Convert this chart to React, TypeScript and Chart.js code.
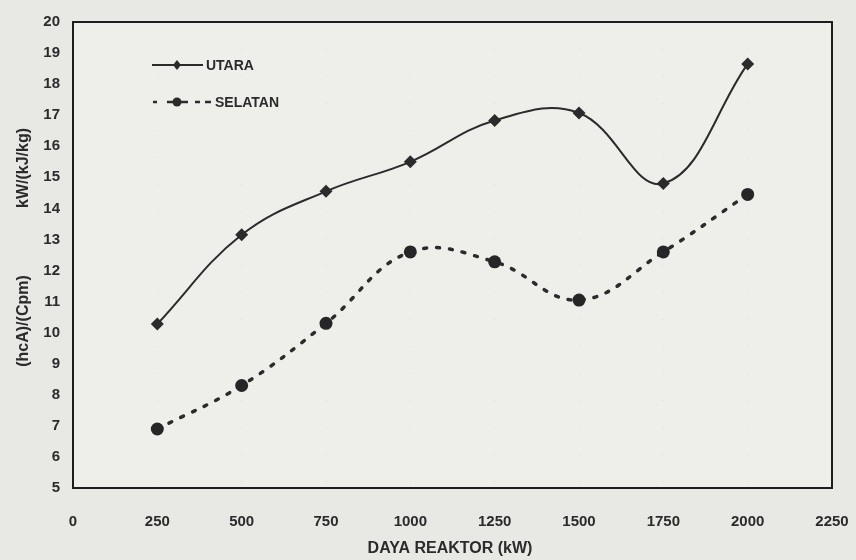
import React, { useEffect, useRef } from "react";
import { Chart, registerables } from "chart.js";

Chart.register(...registerables);

const power = [250, 500, 750, 1000, 1250, 1500, 1750, 2000];
const utara = [10.28, 13.15, 14.55, 15.5, 16.83, 17.07, 14.8, 18.65];
const selatan = [6.9, 8.3, 10.3, 12.6, 12.28, 11.05, 12.6, 14.45];
const xTicks = [0, 250, 500, 750, 1000, 1250, 1500, 1750, 2000, 2250];
const legendLabels = ["UTARA", "SELATAN"];
const yTitleParts = ["(hcA)/(Cpm)", "kW/(kJ/kg)"];
const xTitle = "DAYA REAKTOR (kW)";

const INK = "#2b2b2b";
const FONT = "'Liberation Sans', Arial, sans-serif";

const framePlugin = {
  id: "frame",
  beforeDraw(chart: any) {
    const { ctx, chartArea: a, width, height } = chart;
    ctx.save();
    ctx.fillStyle = "#e8e8e5";
    ctx.fillRect(0, 0, width, height);
    ctx.fillStyle = "#eeeeeb";
    ctx.fillRect(a.left, a.top, a.right - a.left, a.bottom - a.top);
    ctx.restore();
  },
  afterDraw(chart: any) {
    const { ctx, chartArea: a } = chart;
    ctx.save();
    ctx.strokeStyle = "#1e1e1e";
    ctx.lineWidth = 2;
    ctx.strokeRect(a.left, a.top, a.right - a.left, a.bottom - a.top);

    // legend inside plot
    const x0 = 152;
    const y1 = 65;
    const y2 = 102;
    ctx.strokeStyle = INK;
    ctx.fillStyle = INK;
    ctx.lineWidth = 2;
    ctx.beginPath();
    ctx.moveTo(x0, y1);
    ctx.lineTo(x0 + 51, y1);
    ctx.stroke();
    const dx = x0 + 25;
    ctx.beginPath();
    ctx.moveTo(dx, y1 - 5);
    ctx.lineTo(dx + 4, y1);
    ctx.lineTo(dx, y1 + 5);
    ctx.lineTo(dx - 4, y1);
    ctx.closePath();
    ctx.fill();
    ctx.lineWidth = 2.5;
    const segs = [[1, 5], [15, 22], [29, 36], [43, 48], [53, 59]];
    segs.forEach(([s, e]) => {
      ctx.beginPath();
      ctx.moveTo(x0 + s, y2);
      ctx.lineTo(x0 + e, y2);
      ctx.stroke();
    });
    ctx.beginPath();
    ctx.arc(x0 + 25, y2, 4.5, 0, Math.PI * 2);
    ctx.fill();
    ctx.font = `bold 14px ${FONT}`;
    ctx.textBaseline = "middle";
    ctx.textAlign = "left";
    ctx.fillText(legendLabels[0], 206, y1 + 1);
    ctx.fillText(legendLabels[1], 215, y2 + 1);

    // y title (two parts, rotated)
    ctx.save();
    ctx.translate(24, 0);
    ctx.rotate(-Math.PI / 2);
    ctx.font = `bold 16px ${FONT}`;
    ctx.textAlign = "center";
    ctx.textBaseline = "middle";
    ctx.fillText(yTitleParts[0], -321, 0);
    ctx.fillText(yTitleParts[1], -168, 0);
    ctx.restore();

    // x title
    ctx.font = `bold 16px ${FONT}`;
    ctx.textAlign = "center";
    ctx.textBaseline = "middle";
    ctx.fillText(xTitle, 450, 549);
    ctx.restore();
  },
};

export default function App() {
  const ref = useRef<HTMLCanvasElement | null>(null);
  useEffect(() => {
    if (!ref.current) return;
    const chart = new Chart(ref.current, {
      type: "line",
      data: {
        datasets: [
          {
            label: "UTARA",
            data: power.map((p, i) => ({ x: p, y: utara[i] })),
            borderColor: INK,
            backgroundColor: INK,
            borderWidth: 2,
            tension: 0.4,
            pointStyle: "rectRot",
            pointRadius: 6.5,
            pointBorderWidth: 0,
          },
          {
            label: "SELATAN",
            data: power.map((p, i) => ({ x: p, y: selatan[i] })),
            borderColor: INK,
            backgroundColor: "#262626",
            borderWidth: 3.5,
            borderDash: [3, 10],
            borderCapStyle: "round",
            tension: 0.4,
            pointStyle: "circle",
            pointRadius: 6.5,
            pointBorderWidth: 0,
          },
        ],
      },
      options: {
        animation: false,
        responsive: false,
        maintainAspectRatio: false,
        layout: { padding: { top: 20, right: 24, left: 0, bottom: 0 } },
        plugins: { legend: { display: false }, tooltip: { enabled: false } },
        scales: {
          x: {
            type: "linear",
            min: 0,
            max: 2250,
            afterBuildTicks: (s: any) => {
              s.ticks = xTicks.map((v) => ({ value: v }));
            },
            afterFit: (s: any) => {
              s.height = 72;
              s.paddingRight = 0;
            },
            grid: {
              drawTicks: false,
              color: "rgba(0,0,0,0.08)",
            },
            border: { display: false, dash: [1, 26] },
            ticks: {
              padding: 25,
              color: INK,
              font: { family: FONT, weight: "bold", size: 15 },
              callback: (v: any) => String(v),
            },
            title: { display: false },
          },
          y: {
            min: 5,
            max: 20,
            ticks: {
              stepSize: 1,
              padding: 13,
              color: INK,
              font: { family: FONT, weight: "bold", size: 15 },
              callback: (v: any) => String(v),
            },
            afterFit: (s: any) => {
              s.width = 73;
            },
            grid: { display: false, drawTicks: false },
            border: { display: false },
            title: { display: false },
          },
        },
      },
      plugins: [framePlugin],
    } as any);
    return () => chart.destroy();
  }, []);
  return (
    <div style={{ position: "fixed", left: 0, top: 0, width: 856, height: 560 }}>
      <canvas ref={ref} width={856} height={560} style={{ display: "block" }} />
    </div>
  );
}
